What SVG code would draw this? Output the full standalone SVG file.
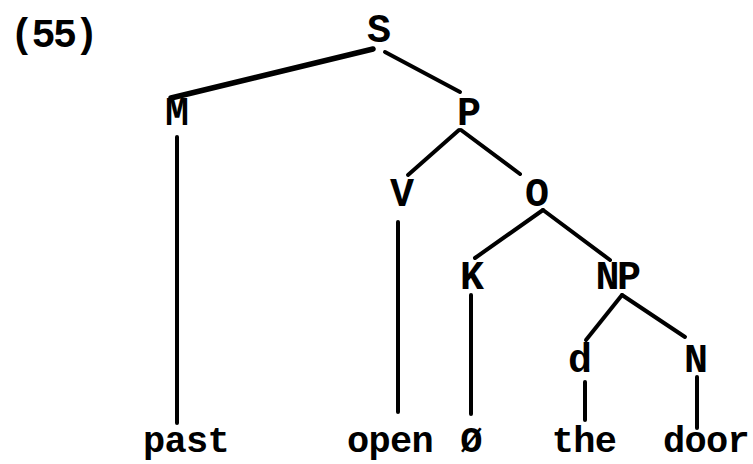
<svg xmlns="http://www.w3.org/2000/svg" width="753" height="464" viewBox="0 0 753 464">
<style>
  .t { font-family: "Liberation Mono", "Courier New", monospace; font-weight: bold; font-size: 40px; fill: #000; text-anchor: middle; }
  .w { letter-spacing: -2.5px; }
  .leaf { font-size: 37px; letter-spacing: -0.7px; }
  .e { stroke: #000; stroke-width: 4; stroke-linecap: round; fill: none; }
</style>
<rect width="753" height="464" fill="#fff"/>
<text class="t w" x="10" y="47" style="text-anchor:start">(55)</text>
<g id="connectors">
  <line class="e" x1="373" y1="49" x2="171" y2="98" style="stroke-width:5.5"/>
  <line class="e" x1="385" y1="52" x2="460" y2="92"/>
  <line class="e" x1="177" y1="137" x2="177" y2="423"/>
  <line class="e" x1="459" y1="130" x2="408" y2="175"/>
  <line class="e" x1="461" y1="130" x2="520" y2="174"/>
  <line class="e" x1="398" y1="222" x2="398" y2="412"/>
  <line class="e" x1="543" y1="210" x2="475" y2="258"/>
  <line class="e" x1="543" y1="210" x2="610" y2="260"/>
  <line class="e" x1="471" y1="295" x2="471" y2="414"/>
  <line class="e" x1="622" y1="295" x2="586" y2="340"/>
  <line class="e" x1="622" y1="295" x2="685" y2="337"/>
  <line class="e" x1="585" y1="382" x2="585" y2="420"/>
  <line class="e" x1="697" y1="377" x2="697" y2="428"/>
</g>
<g id="node-S"><text class="t" x="379" y="42">S</text></g>
<g id="node-M"><text class="t" x="177" y="125">M</text></g>
<g id="node-P"><text class="t" x="469" y="125">P</text></g>
<g id="node-V"><text class="t" x="402" y="206">V</text></g>
<g id="node-O"><text class="t" x="537" y="206">O</text></g>
<g id="node-K"><text class="t" x="472" y="289">K</text></g>
<g id="node-NP"><text class="t w" x="617" y="289">NP</text></g>
<g id="node-d"><text class="t" x="580" y="372">d</text></g>
<g id="node-N"><text class="t" x="696" y="372">N</text></g>
<g id="leaf-past"><text class="t leaf" x="186" y="452">past</text></g>
<g id="leaf-open"><text class="t leaf" x="390" y="452">open</text></g>
<g id="leaf-null"><text class="t leaf" x="471" y="452">Ø</text></g>
<g id="leaf-the"><text class="t leaf" x="584" y="452">the</text></g>
<g id="leaf-door"><text class="t leaf" x="706" y="452">door</text></g>
</svg>
